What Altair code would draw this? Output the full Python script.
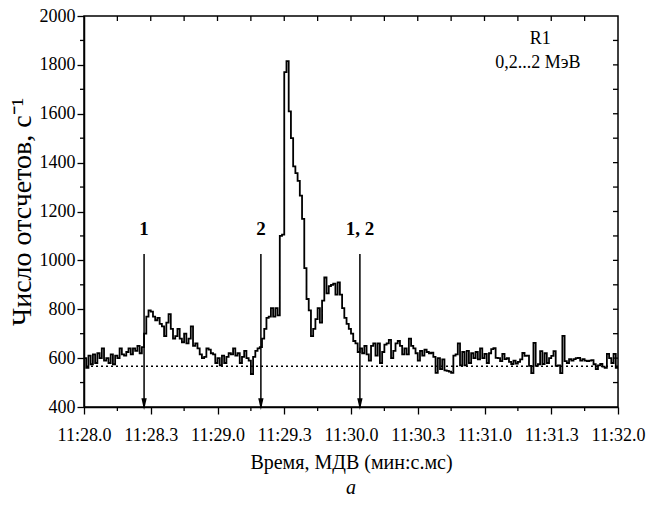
import altair as alt
import pandas as pd

# counts per second, 1-s bins starting at 11:28:00 (t in seconds)
counts = [
    600, 560, 610, 575, 615, 580, 620, 600, 640, 590,
    600, 580, 615, 575, 610, 600, 640, 615, 610, 625,
    640, 615, 640, 630, 650, 620, 645, 700, 770, 795,
    790, 770, 755, 765, 740, 730, 690, 745, 780, 720,
    680, 690, 720, 680, 665, 700, 660, 680, 730, 650,
    660, 640, 615, 600, 605, 640, 635, 620, 615, 580,
    600, 570, 610, 580, 605, 620, 615, 640, 610, 620,
    580, 605, 630, 600, 590, 535, 605, 630, 640, 645,
    680, 720, 765, 770, 805, 770, 805, 775, 1100, 1105,
    1770, 1815, 1610, 1500, 1385, 1357, 1325, 1265, 1170, 968,
    842, 795, 690, 720, 760, 805, 745, 835, 930, 865,
    895, 900, 905, 860, 910, 860, 805, 765, 740, 720,
    700, 670, 660, 625, 640, 620, 650, 615, 590, 650,
    660, 610, 660, 580, 625, 655, 660, 675, 600, 630,
    660, 670, 650, 615, 640, 615, 680, 650, 640, 620,
    590, 630, 610, 635, 625, 620, 622, 605, 540, 600,
    555, 595, 550, 548, 545, 540, 610, 615, 660, 570,
    625, 570, 630, 580, 620, 600, 625, 595, 640, 600,
    617, 580, 620, 637, 641, 601, 600, 588, 617, 596,
    600, 585, 576, 590, 578, 585, 595, 621, 609, 610,
    568, 539, 662, 568, 575, 629, 576, 620, 580, 600,
    609, 629, 568, 570, 539, 691, 588, 580, 596, 590,
    596, 600, 601, 590, 596, 590, 588, 590, 592, 575,
    555, 570, 576, 565, 560, 617, 600, 580, 617, 560,
]
times = list(range(len(counts) + 1))
values = counts + [counts[-1]]

x_ticks = [0, 30, 60, 90, 120, 150, 180, 210, 240]
x_labels = ["11:28.0", "11:28.3", "11:29.0", "11:29.3", "11:30.0",
            "11:30.3", "11:31.0", "11:31.3", "11:32.0"]
x_minor = [15, 45, 75, 105, 135, 165, 195, 225]
y_ticks = [400, 600, 800, 1000, 1200, 1400, 1600, 1800, 2000]
y_minor = [500, 700, 900, 1100, 1300, 1500, 1700, 1900]

baseline = 567
arrow_t = [27, 79.5, 124]
arrow_labels = ["1", "2", "1, 2"]
arrow_top = 1026
arrow_label_y = 1128

FONT = "Liberation Serif"
W, H = 534, 391

df = pd.DataFrame({"t": times, "v": values})
xs = alt.Scale(domain=[0, 240], nice=False, zero=False)
ys = alt.Scale(domain=[400, 2000], nice=False, zero=False)

label_expr = "[" + ",".join(f"'{l}'" for l in x_labels) + "][round(datum.value/30)]"


def X(field):
    return alt.X(field, type="quantitative", scale=xs)


def Y(field):
    return alt.Y(field, type="quantitative", scale=ys)


line = alt.Chart(df).mark_line(
    interpolate="step-after", color="black", strokeWidth=1.8
).encode(
    x=alt.X("t:Q", scale=xs, axis=alt.Axis(
        values=x_ticks, labelExpr=label_expr, title="Время, МДВ (мин:с.мс)",
        grid=False, tickSize=7, labelPadding=12, titlePadding=8, labelFlush=False,
        titleFontSize=20)),
    y=alt.Y("v:Q", scale=ys, axis=alt.Axis(
        values=y_ticks, format="d", title="Число отсчетов, с⁻¹", grid=False,
        tickSize=7, labelPadding=2, titlePadding=3, labelFlush=False,
        titleFontSize=28)),
)

base_df = pd.DataFrame({"y": [baseline]})
dotted = alt.Chart(base_df).mark_rule(
    color="black", strokeDash=[2, 3], strokeWidth=1.6
).encode(y=Y("y"))

# minor ticks bottom (outward) and ticks on top (inward)
xm_df = pd.DataFrame({"x": x_minor})
xminor_bottom = alt.Chart(xm_df).mark_rule(color="black", strokeWidth=1.3).encode(
    x=X("x"), y=alt.value(H), y2=alt.value(H + 4))
xall_df = pd.DataFrame({"x": x_ticks[1:-1] + x_minor})
x_top = alt.Chart(xall_df).mark_rule(color="black", strokeWidth=1.3).encode(
    x=X("x"), y=alt.value(0), y2=alt.value(5))

ym_df = pd.DataFrame({"y": y_minor})
yminor_left = alt.Chart(ym_df).mark_rule(color="black", strokeWidth=1.3).encode(
    y=Y("y"), x=alt.value(0), x2=alt.value(-4))
yall_df = pd.DataFrame({"y": y_ticks[1:-1] + y_minor})
y_right = alt.Chart(yall_df).mark_rule(color="black", strokeWidth=1.3).encode(
    y=Y("y"), x=alt.value(W), x2=alt.value(W - 5))

arr_df = pd.DataFrame({"t": arrow_t, "top": [arrow_top] * 3, "bot": [400] * 3,
                       "lab": arrow_labels, "ly": [arrow_label_y] * 3,
                       "head": [412] * 3})
arrows = alt.Chart(arr_df).mark_rule(color="black", strokeWidth=1.5).encode(
    x=X("t"), y=Y("top"), y2="bot:Q")
heads = alt.Chart(arr_df).mark_point(
    shape="M-0.45,-1L0.45,-1L0,1Z", filled=True, color="black", opacity=1, size=140
).encode(x=X("t"), y=Y("head"))
arrow_text = alt.Chart(arr_df).mark_text(
    font=FONT, fontSize=19, fontWeight="bold", color="black", baseline="middle"
).encode(x=X("t"), y=Y("ly"), text="lab:N")

note_df = pd.DataFrame({"t": [205, 204], "y": [1906, 1806], "txt": ["R1", "0,2...2 МэВ"]})
notes = alt.Chart(note_df).mark_text(
    font=FONT, fontSize=18, color="black", baseline="middle"
).encode(x=X("t"), y=Y("y"), text="txt:N")

sub_df = pd.DataFrame({"t": [120], "txt": ["a"]})
sub = alt.Chart(sub_df).mark_text(
    font=FONT, fontSize=20, fontStyle="italic", color="black", baseline="middle"
).encode(x=X("t"), y=alt.value(H + 81), text="txt:N")

chart = alt.layer(
    line, dotted, xminor_bottom, x_top, yminor_left, y_right,
    arrows, heads, arrow_text, notes, sub
).properties(
    width=W, height=H, background="white",
    autosize=alt.AutoSizeParams(type="none"),
    padding={"left": 76, "top": 8, "right": 28, "bottom": 91},
).configure_view(
    stroke="black", strokeWidth=1.5
).configure_axis(
    labelFont=FONT, labelFontSize=18, labelColor="black",
    titleFont=FONT, titleFontSize=18, titleFontWeight="normal", titleColor="black",
    tickColor="black", tickWidth=1.3, domainColor="black", domainWidth=1.5,
)

chart.save("out.html", embed_options={"renderer": "svg", "actions": False})
